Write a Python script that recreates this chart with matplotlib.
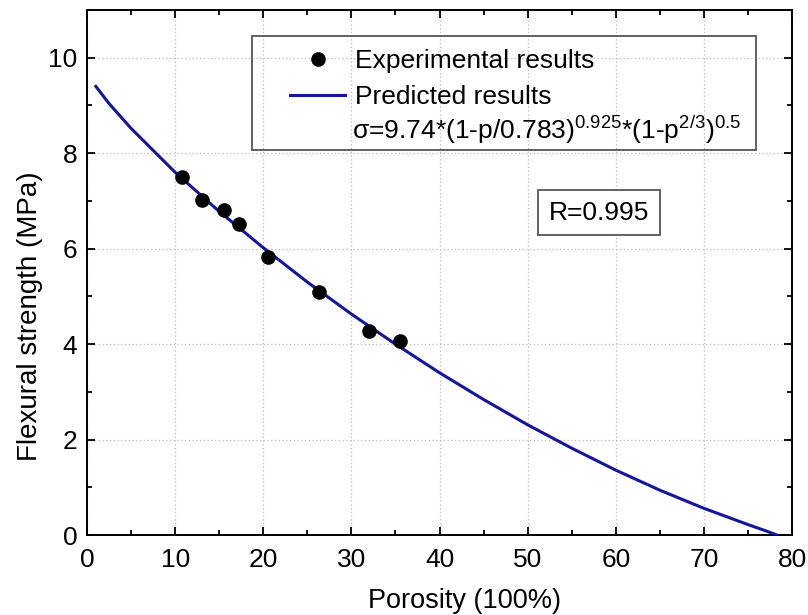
import matplotlib
matplotlib.use('Agg')
import matplotlib.pyplot as plt
from matplotlib.patches import Rectangle
from matplotlib.ticker import MultipleLocator

plt.rcParams['font.family'] = ['Liberation Sans', 'DejaVu Sans']
plt.rcParams['mathtext.default'] = 'regular'

# experimental points (porosity %, strength MPa)
exp_x = [10.8, 13.0, 15.5, 17.2, 20.5, 26.3, 32.0, 35.5]
exp_y = [7.50, 7.02, 6.80, 6.52, 5.82, 5.10, 4.27, 4.07]

# predicted curve
pred_x = [1, 2.5, 5, 10, 15, 20, 25, 30, 35, 40, 45, 50, 55, 60, 65, 70, 75, 77, 78.3]
pred_y = [9.40, 9.04, 8.52, 7.60, 6.78, 6.02, 5.30, 4.63, 4.00, 3.40, 2.84, 2.31,
          1.82, 1.36, 0.94, 0.56, 0.22, 0.09, 0.0]

line_color = '#15159c'
fs = 19

fig = plt.figure(figsize=(8.08, 6.15), dpi=100)
ax = fig.add_axes([0.1077, 0.130, 0.8725, 0.8537])

ax.plot(pred_x, pred_y, color=line_color, lw=2.2, label='Predicted results', zorder=3)
ax.plot(exp_x, exp_y, 'o', color='black', ms=9.5, label='Experimental results', zorder=4)

ax.set_xlim(0, 80)
ax.set_ylim(0, 11)
ax.xaxis.set_major_locator(MultipleLocator(10))
ax.xaxis.set_minor_locator(MultipleLocator(5))
ax.yaxis.set_major_locator(MultipleLocator(2))
ax.yaxis.set_minor_locator(MultipleLocator(1))
ax.tick_params(which='both', direction='in', top=True, right=True, labelsize=fs, width=1.3)
ax.tick_params(which='major', length=6)
ax.tick_params(which='minor', length=3.5)
ax.tick_params(axis='x', pad=9)
ax.tick_params(axis='y', pad=7)
for s in ax.spines.values():
    s.set_linewidth(1.4)

ax.grid(True, which='major', color='#bbbbbb', linestyle=(0, (1, 2)), lw=0.9)

ax.set_xlabel('Porosity (100%)', fontsize=fs + 0.5)
ax.set_ylabel('Flexural strength (MPa)', fontsize=fs + 1)
ax.xaxis.set_label_coords(0.536, -0.100)
ax.yaxis.set_label_coords(-0.062, 0.417)

# legend box
ax.add_patch(Rectangle((0.234, 0.733), 0.715, 0.217, transform=ax.transAxes,
                       fill=False, edgecolor='#555555', lw=1.3, zorder=5))
handles, labels = ax.get_legend_handles_labels()
leg = ax.legend(handles[::-1], labels[::-1], loc='upper left', bbox_to_anchor=(0.288, 0.925),
                frameon=False, fontsize=fs, handlelength=2.1, handletextpad=0.35,
                labelspacing=0.45, borderaxespad=0, borderpad=0)
ax.text(0.376, 0.755, r'σ=9.74*(1-p/0.783)$^{0.925}$*(1-p$^{2/3}$)$^{0.5}$',
        transform=ax.transAxes, fontsize=fs, ha='left', va='baseline')

ax.text(0.726, 0.614, 'R=0.995', transform=ax.transAxes, fontsize=fs,
        ha='center', va='center',
        bbox=dict(boxstyle='square,pad=0.4', fc='white', ec='#555555', lw=1.3))

fig.savefig('out.png', dpi=100)
